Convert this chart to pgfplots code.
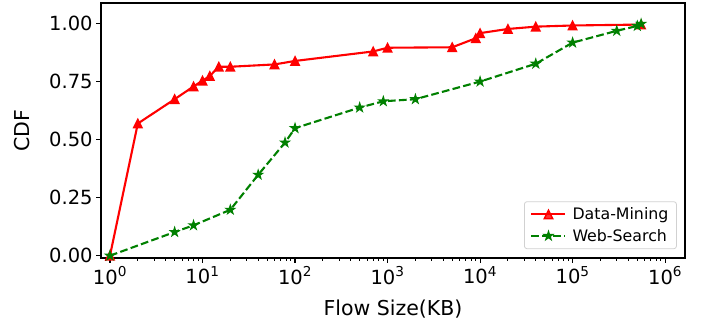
\documentclass[border=0pt]{standalone}
\usepackage{pgfplots}
\pgfplotsset{compat=1.18}
\usepackage{fontspec}
\setmainfont{DejaVu Sans}

% filled triangle as in matplotlib's '^'
\pgfdeclareplotmark{mtri}{%
  \pgfpathmoveto{\pgfqpoint{0pt}{\pgfplotmarksize}}%
  \pgfpathlineto{\pgfqpoint{-\pgfplotmarksize}{-\pgfplotmarksize}}%
  \pgfpathlineto{\pgfqpoint{\pgfplotmarksize}{-\pgfplotmarksize}}%
  \pgfpathclose
  \pgfusepathqfillstroke}

% filled five-pointed star
\pgfdeclareplotmark{mstar}{%
  \pgfmathsetlengthmacro\outr{\pgfplotmarksize}%
  \pgfmathsetlengthmacro\innr{0.382*\pgfplotmarksize}%
  \pgfpathmoveto{\pgfpointpolar{90}{\outr}}%
  \pgfpathlineto{\pgfpointpolar{126}{\innr}}%
  \pgfpathlineto{\pgfpointpolar{162}{\outr}}%
  \pgfpathlineto{\pgfpointpolar{198}{\innr}}%
  \pgfpathlineto{\pgfpointpolar{234}{\outr}}%
  \pgfpathlineto{\pgfpointpolar{270}{\innr}}%
  \pgfpathlineto{\pgfpointpolar{306}{\outr}}%
  \pgfpathlineto{\pgfpointpolar{342}{\innr}}%
  \pgfpathlineto{\pgfpointpolar{18}{\outr}}%
  \pgfpathlineto{\pgfpointpolar{54}{\innr}}%
  \pgfpathclose
  \pgfusepathqfillstroke}

\definecolor{mplred}{HTML}{FF0000}
\definecolor{mplgreen}{HTML}{008000}

\begin{document}
\begin{tikzpicture}
\begin{axis}[
  xmode=log, log basis x=10,
  scale only axis, width=584bp, height=255bp,
  xmin=0.8, xmax=1.64e6, ymin=-0.01, ymax=1.09,
  axis line style={line width=1.1bp},
  tick align=outside, xtick pos=bottom, ytick pos=left,
  major tick length=4.9bp, minor tick length=2.8bp,
  every tick/.style={black, line width=1.1bp},
  every minor tick/.style={black, line width=0.85bp},
  xtick={1,10,100,1000,10000,100000,1000000},
  xticklabels={10\textsuperscript{0},10\textsuperscript{1},10\textsuperscript{2},10\textsuperscript{3},10\textsuperscript{4},10\textsuperscript{5},10\textsuperscript{6}},
  minor xtick={0.9,2,3,4,5,6,7,8,9,20,30,40,50,60,70,80,90,200,300,400,500,600,700,800,900,2000,3000,4000,5000,6000,7000,8000,9000,20000,30000,40000,50000,60000,70000,80000,90000,200000,300000,400000,500000,600000,700000,800000,900000},
  ytick={0,0.25,0.5,0.75,1},
  yticklabel style={/pgf/number format/.cd, fixed, fixed zerofill, precision=2, assume math mode=true},
  tick label style={font=\fontsize{19.5bp}{23bp}\selectfont},
  xlabel={Flow Size(KB)}, ylabel={CDF},
  every axis x label/.style={at={(axis description cs:0.5,0)}, anchor=base, yshift=-57bp,
    font=\fontsize{20.5bp}{24bp}\selectfont},
  every axis y label/.style={at={(axis description cs:-0.1353,0.5)}, rotate=90, anchor=center,
    font=\fontsize{20.5bp}{24bp}\selectfont},
  legend cell align=left,
  legend image code/.code={\draw[mark repeat=2, mark phase=2, #1] plot coordinates {(0bp,0bp) (17bp,0bp) (34bp,0bp)};},
  legend style={at={(axis description cs:0.986,0.035)}, anchor=south east,
    font=\fontsize{15.8bp}{19bp}\selectfont,
    draw=black!18, line width=0.8bp, rounded corners=2.5bp,
    fill=white, fill opacity=0.8, text opacity=1, draw opacity=1,
    inner xsep=6bp, inner ysep=4bp, row sep=4bp, column sep=4bp},
]
\addplot[color=mplred, line width=2.1bp, mark=mtri, mark size=4.17bp,
  mark options={solid, line width=1.4bp, fill=mplred}] coordinates {
  (1,0) (2,0.57) (5,0.675) (8,0.73) (10,0.755) (12,0.775) (15,0.815) (20,0.815)
  (60,0.825) (100,0.84) (700,0.881) (1000,0.897) (5000,0.899) (9000,0.938)
  (10000,0.96) (20000,0.978) (40000,0.988) (100000,0.993) (550000,0.997)
};
\addlegendentry{Data-Mining}
\addplot[color=mplgreen, line width=2.1bp, dash pattern=on 7.7bp off 3.3bp,
  mark=mstar, mark size=4.17bp,
  mark options={solid, line width=1.4bp, fill=mplgreen}] coordinates {
  (1,0) (5,0.102) (8,0.131) (20,0.198) (40,0.349) (78,0.488) (100,0.55)
  (500,0.639) (900,0.666) (2000,0.675) (10000,0.751) (40000,0.828)
  (100000,0.919) (300000,0.97) (500000,0.991) (550000,1.0)
};
\addlegendentry{Web-Search}
\end{axis}
\pgfresetboundingbox
\useasboundingbox (-101bp,-68bp) rectangle (605bp,258bp);
\end{tikzpicture}
\end{document}
